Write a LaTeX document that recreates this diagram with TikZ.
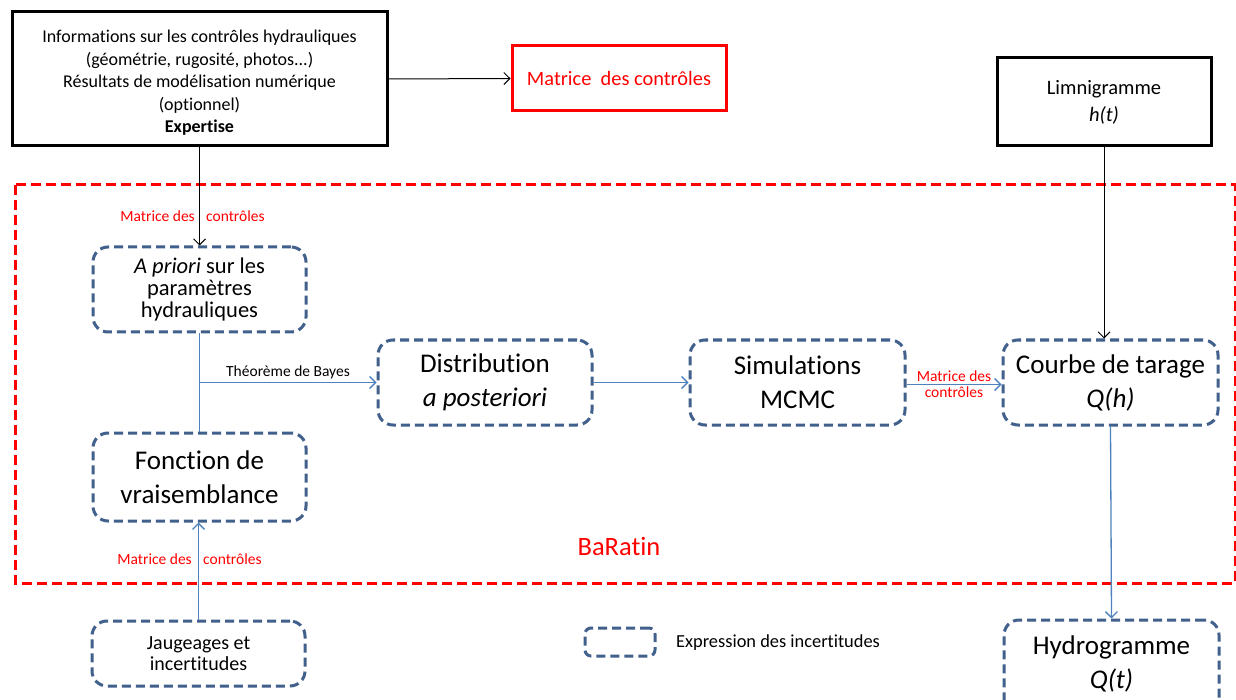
\documentclass[tikz,border=0pt]{standalone}
\usepackage{fontspec}
\setmainfont[Ligatures=NoCommon]{Carlito}
\usetikzlibrary{arrows.meta}
\definecolor{boxblue}{RGB}{65,96,140}
\definecolor{linkblue}{RGB}{79,129,189}
\tikzset{
  incbox/.style={draw=boxblue,line width=3pt,dash pattern=on 9pt off 5pt,
    rounded corners=15pt,align=center,inner sep=2pt},
  bigtxt/.style={font=\fontsize{27}{34}\selectfont},
  blackbox/.style={draw=black,line width=3pt,align=center,inner sep=2pt},
  redlbl/.style={text=red,font=\fontsize{15.5}{19}\selectfont,inner sep=1pt},
  tip/.style={-{Straight Barb[length=6pt,width=12pt]}},
  bluelink/.style={linkblue,line width=1.3pt},
}
\begin{document}
\begin{tikzpicture}[x=1pt,y=-1pt]
\useasboundingbox (0,0) rectangle (1236,700);
% BaRatin frame
\draw[red,line width=3pt,dash pattern=on 10pt off 5pt] (15,185) rectangle (1235,583);
\node[text=red,font=\fontsize{26.5}{32}\selectfont] (baratin) at (619,546) {BaRatin};
% inputs
\node[blackbox,minimum width=375pt,minimum height=134pt,font=\fontsize{18}{22.5}\selectfont] (info) at (199.5,79)
 {\rule{0pt}{4pt}\\[-6pt]Informations sur les contrôles hydrauliques\\(géométrie, rugosité, photos...)\\Résultats de modélisation numérique\\(optionnel)\\\textbf{Expertise}};
\node[draw=red,line width=3pt,minimum width=214pt,minimum height=65pt,text=red,font=\fontsize{20.4}{25}\selectfont] (matrice) at (619,78.5)
 {Matrice\ \ des contrôles};
\node[blackbox,minimum width=214pt,minimum height=88pt,font=\fontsize{20.5}{27}\selectfont] (limni) at (1104,102)
 {Limnigramme\\\textit{h(t)}};
% uncertain boxes
\node[incbox,minimum width=213pt,minimum height=85pt,font=\fontsize{22.5}{22}\selectfont] (apriori) at (199.5,289.5)
 {\textit{A priori} sur les\\paramètres\\hydrauliques};
\node[incbox,bigtxt,minimum width=213pt,minimum height=88pt] (vrais) at (199.5,477)
 {Fonction de\\vraisemblance};
\node[incbox,bigtxt,minimum width=214pt,minimum height=85pt] (post) at (485,382.5)
 {Distribution\\\textit{a posteriori}};
\node[incbox,bigtxt,minimum width=215pt,minimum height=85pt] (mcmc) at (797.5,382.5)
 {Simulations\\MCMC};
\node[incbox,bigtxt,minimum width=215pt,minimum height=85pt] (tarage) at (1110.5,382.5)
 {Courbe de tarage\\\textit{Q(h)}};
\node[incbox,minimum width=213pt,minimum height=65pt,font=\fontsize{20}{20.5}\selectfont] (jaug) at (198.5,653.5)
 {Jaugeages et\\incertitudes};
\node[incbox,bigtxt,minimum width=215pt,minimum height=100pt,text depth=16pt] (hydro) at (1111.5,670)
 {Hydrogramme\\\textit{Q(t)}};
% legend
\node[incbox,minimum width=70pt,minimum height=28pt,rounded corners=6pt] (legbox) at (620,642) {};
\node[anchor=west,font=\fontsize{18.4}{22}\selectfont,inner sep=0pt] (legtxt) at (676,643) {Expression des incertitudes};
% connectors
\draw[tip,line width=1pt] (info.east) -- (matrice.west);
\draw[tip,line width=1pt] (info.south) -- (apriori.north);
\node[redlbl,anchor=east] (lblA) at (196,216) {Matrice des};
\node[redlbl,anchor=west] (lblB) at (205,216) {contrôles};
\draw[bluelink] (apriori.south) -- (vrais.north);
\coordinate (bayes) at (apriori.south |- post.west);
\draw[bluelink,tip] (bayes) -- (post.west)
  node[midway,above,text=black,font=\fontsize{15.5}{19}\selectfont,inner sep=3pt] {Théorème de Bayes};
\draw[bluelink,tip] (post.east) -- (mcmc.west);
\draw[bluelink,tip] ([yshift=-2pt]mcmc.east) -- ([yshift=-2pt]tarage.west)
  node[midway,above,redlbl,inner sep=2pt] {Matrice des}
  node[midway,below,redlbl,inner sep=2pt] {contrôles};
\draw[tip,line width=1pt] (limni.south) -- (limni.south |- tarage.north);
\draw[bluelink,tip] (tarage.south) -- (hydro.north);
\draw[bluelink,tip] (jaug.north) -- (jaug.north |- vrais.south);
\node[redlbl,anchor=east] (lblC) at (193,559) {Matrice des};
\node[redlbl,anchor=west] (lblD) at (202,559) {contrôles};
\end{tikzpicture}
\end{document}
